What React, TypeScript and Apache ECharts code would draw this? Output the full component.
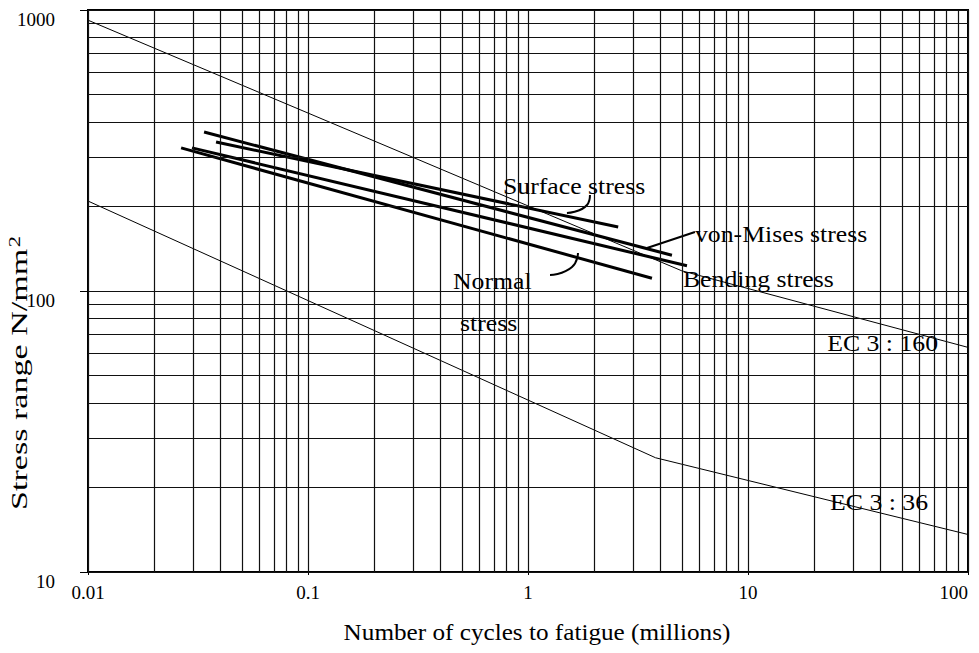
import React, { useEffect, useRef } from "react";
import * as echarts from "echarts";

// Axis ticks
const xTickValues = [0.01, 0.1, 1, 10, 100];
const xTickLabels = ["0.01", "0.1", "1", "10", "100"];
const yTickValues = [10, 100, 1000];
const yTickLabels = ["10", "100", "1000"];

// Log-paper grid lines (1..9 per decade)
const xGridValues = [
  0.01, 0.02, 0.03, 0.04, 0.05, 0.06, 0.07, 0.08, 0.09,
  0.1, 0.2, 0.3, 0.4, 0.5, 0.6, 0.7, 0.8, 0.9,
  1, 2, 3, 4, 5, 6, 7, 8, 9,
  10, 20, 30, 40, 50, 60, 70, 80, 90, 100,
];
const yGridValues = [
  10, 20, 30, 40, 50, 60, 70, 80, 90,
  100, 200, 300, 400, 500, 600, 700, 800, 900, 1000,
];

// EC3 detail-category curves (N in millions, stress range N/mm2)
const ec3_160_N = [0.01, 5, 100];
const ec3_160_S = [920, 118, 63];
const ec3_36_N = [0.01, 3.8, 100];
const ec3_36_S = [209, 25.5, 13.6];

// Measured stress lines
const surfaceN = [0.0382, 2.57];
const surfaceS = [339, 169];
const vonMisesN = [0.0337, 4.51];
const vonMisesS = [368, 134];
const bendingN = [0.0297, 5.28];
const bendingS = [323, 123];
const normalN = [0.0265, 3.66];
const normalS = [323, 111];

// Annotation texts and their anchor (left, middle) positions in data units
const labelTexts = ["Surface stress", "von-Mises stress", "Bending stress", "Normal", "stress", "EC 3 : 160", "EC 3 : 36"];
const labelN = [0.77, 5.74, 5.06, 0.456, 0.491, 22.9, 23.6];
const labelS = [236, 159.5, 110.3, 108.5, 76.9, 65.3, 17.7];

// Leader lines in data units
const leaderSurfaceN = [1.913, 1.854, 1.503];
const leaderSurfaceS = [219.6, 202.3, 189.5];
const leaderVonMisesN = [5.74, 3.475];
const leaderVonMisesS = [162.2, 142.3];
const leaderNormalN = [1.687, 1.585, 1.259];
const leaderNormalS = [136.6, 121.7, 114];

const FONT = "'Liberation Serif', 'Times New Roman', serif";

const zip = (a: number[], b: number[]) => a.map((v, i) => [v, b[i]]);

function fmt(list: number[], labels: string[], v: number) {
  for (let i = 0; i < list.length; i++) {
    if (Math.abs(Math.log10(v) - Math.log10(list[i])) < 1e-6) return labels[i];
  }
  return "";
}

export default function App() {
  const ref = useRef<HTMLDivElement>(null);
  useEffect(() => {
    if (!ref.current) return;
    const chart = echarts.init(ref.current, undefined, { renderer: "svg" });
    const thick = (name: string, n: number[], s: number[]) => ({
      name,
      type: "line",
      data: zip(n, s),
      symbol: "none",
      z: 4,
      lineStyle: { color: "#000", width: 3 },
    });
    const thin = (name: string, n: number[], s: number[]) => ({
      name,
      type: "line",
      data: zip(n, s),
      symbol: "none",
      z: 3,
      lineStyle: { color: "#000", width: 1 },
    });
    const leader = (name: string, n: number[], s: number[]) => ({
      name,
      type: "line",
      data: zip(n, s),
      symbol: "none",
      smooth: 0.6,
      z: 4,
      lineStyle: { color: "#000", width: 2 },
    });
    const option: any = {
      animation: false,
      backgroundColor: "#fff",
      grid: {
        left: 88,
        right: 11,
        top: 10,
        bottom: 81,
        show: true,
        borderColor: "#000",
        borderWidth: 2,
        backgroundColor: "transparent",
        outerBoundsMode: "none",
      },
      xAxis: {
        type: "log",
        logBase: 10,
        min: 0.01,
        max: 100,
        interval: 1,
        axisLine: { show: true, lineStyle: { color: "#000", width: 2 } },
        axisTick: { show: true, length: 3, lineStyle: { color: "#000" } },
        splitLine: { show: false },
        axisLabel: {
          color: "#000",
          fontFamily: FONT,
          fontSize: 19,
          margin: 11,
          alignMaxLabel: "right",
          showMinLabel: true,
          showMaxLabel: true,
          formatter: (v: number) => fmt(xTickValues, xTickLabels, v),
        },
      },
      yAxis: {
        type: "log",
        logBase: 10,
        min: 10,
        max: 1000,
        interval: 1,
        axisLine: { show: true, lineStyle: { color: "#000", width: 2 } },
        axisTick: { show: true, length: 8, lineStyle: { color: "#000" } },
        splitLine: { show: false },
        axisLabel: {
          color: "#000",
          fontFamily: FONT,
          fontSize: 19,
          margin: 33,
          verticalAlign: "top",
          formatter: (v: number) => fmt(yTickValues, yTickLabels, v),
        },
      },
      series: [
        {
          name: "grid",
          type: "line",
          data: [],
          z: 1,
          markLine: {
            silent: true,
            symbol: ["none", "none"],
            label: { show: false },
            animation: false,
            lineStyle: { color: "#111", width: 1.2, type: "solid", opacity: 1 },
            data: [
              ...xGridValues.map((v) => ({ xAxis: v })),
              ...yGridValues.map((v) => ({ yAxis: v })),
            ],
          },
        },
        thin("EC 3 : 160", ec3_160_N, ec3_160_S),
        thin("EC 3 : 36", ec3_36_N, ec3_36_S),
        thick("Surface stress", surfaceN, surfaceS),
        thick("von-Mises stress", vonMisesN, vonMisesS),
        thick("Bending stress", bendingN, bendingS),
        thick("Normal stress", normalN, normalS),
        leader("leader surface", leaderSurfaceN, leaderSurfaceS),
        leader("leader von-Mises", leaderVonMisesN, leaderVonMisesS),
        leader("leader normal", leaderNormalN, leaderNormalS),
      ],
    };
    chart.setOption(option);

    const annotations = labelTexts.map((t, i) => {
      const p = chart.convertToPixel({ gridIndex: 0 }, [labelN[i], labelS[i]]) as number[];
      return {
        type: "text",
        x: p[0],
        y: p[1],
        scaleX: 1.12,
        z: 10,
        style: {
          text: t,
          fontFamily: FONT,
          fontSize: 23,
          fill: "#000",
          align: "left",
          verticalAlign: "middle",
        },
      };
    });

    chart.setOption({
      graphic: [
        {
          type: "text",
          x: 537,
          y: 632,
          scaleX: 1.05,
          style: {
            text: "Number of cycles to fatigue (millions)",
            fontFamily: FONT,
            fontSize: 24,
            fill: "#000",
            align: "center",
            verticalAlign: "middle",
          },
        },
        {
          type: "text",
          x: 19,
          y: 373,
          rotation: Math.PI / 2,
          scaleX: 1.42,
          style: {
            text: "Stress range N/mm{sup|2}",
            fontFamily: FONT,
            fontSize: 24,
            fill: "#000",
            align: "center",
            verticalAlign: "middle",
            rich: {
              sup: { fontFamily: FONT, fontSize: 16, verticalAlign: "top", fill: "#000", padding: [0, 0, 10, 1] },
            },
          },
        },
        ...annotations,
      ],
    });
    return () => chart.dispose();
  }, []);
  return (
    <div
      ref={ref}
      style={{ position: "fixed", left: 0, top: 0, width: 979, height: 653, background: "#fff" }}
    />
  );
}
